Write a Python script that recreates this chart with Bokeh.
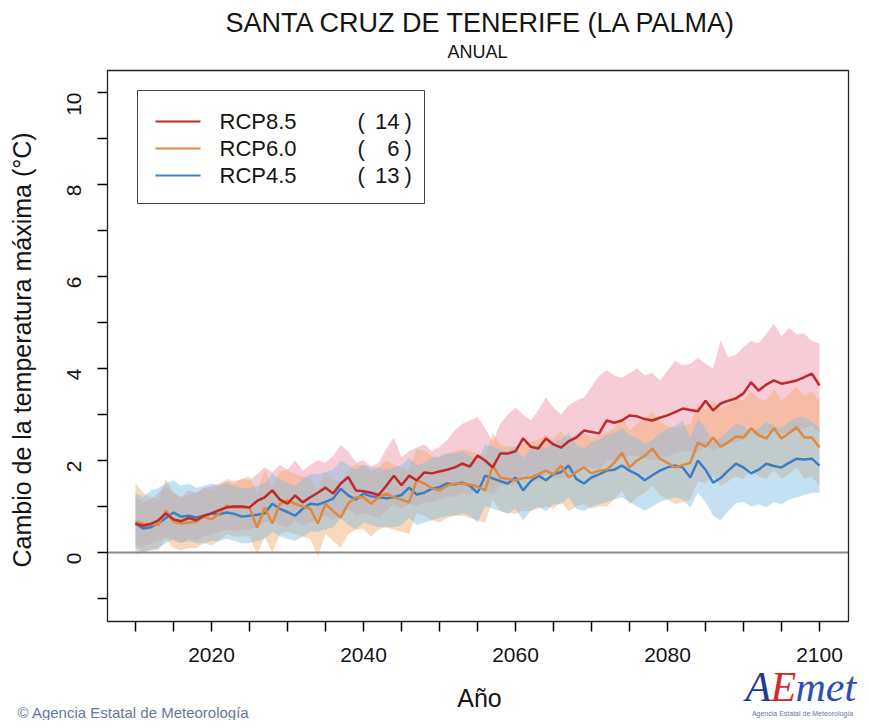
from bokeh.plotting import figure
from bokeh.models import Range1d, FixedTicker, Label
from bokeh.embed import file_html
from bokeh.resources import INLINE
from math import pi

years = list(range(2010, 2101))

rcp85_mean = [0.63, 0.58, 0.62, 0.70, 0.85, 0.72, 0.68, 0.75, 0.70, 0.80,
              0.85, 0.92, 0.98, 1.00, 1.00, 0.98, 1.12, 1.20, 1.35, 1.15,
              1.06, 1.24, 1.09, 1.20, 1.30, 1.41, 1.28, 1.50, 1.64, 1.35,
              1.33, 1.30, 1.25, 1.45, 1.67, 1.46, 1.67, 1.57, 1.74, 1.72,
              1.76, 1.80, 1.85, 1.93, 1.87, 2.11, 2.00, 1.85, 2.15, 2.15,
              2.20, 2.48, 2.30, 2.26, 2.48, 2.35, 2.28, 2.42, 2.50, 2.65,
              2.62, 2.59, 2.87, 2.82, 2.87, 2.98, 2.96, 2.90, 2.87, 2.93,
              2.98, 3.05, 3.13, 3.10, 3.07, 3.30, 3.09, 3.24, 3.30, 3.35,
              3.46, 3.70, 3.52, 3.65, 3.74, 3.67, 3.70, 3.74, 3.81, 3.89,
              3.63]
rcp85_low = [0.15, 0.10, 0.20, 0.25, 0.35, 0.25, 0.20, 0.30, 0.25, 0.35,
             0.40, 0.45, 0.50, 0.45, 0.50, 0.50, 0.55, 0.65, 0.70, 0.60,
             0.55, 0.70, 0.60, 0.65, 0.75, 0.80, 0.70, 0.85, 0.95, 0.80,
             0.85, 0.80, 0.75, 0.90, 1.05, 0.95, 1.05, 1.00, 1.10, 1.10,
             1.15, 1.20, 1.20, 1.30, 1.25, 1.40, 1.35, 1.25, 1.45, 1.45,
             1.50, 1.70, 1.60, 1.55, 1.70, 1.65, 1.60, 1.70, 1.75, 1.85,
             1.85, 1.80, 2.00, 2.00, 2.05, 2.10, 2.10, 2.05, 2.00, 2.05,
             2.10, 2.15, 2.20, 2.20, 2.15, 2.35, 2.20, 2.30, 2.35, 2.40,
             2.45, 2.60, 2.50, 2.60, 2.65, 2.60, 2.60, 2.65, 2.70, 2.75,
             2.60]
rcp85_high = [1.20, 1.10, 1.15, 1.30, 1.45, 1.30, 1.20, 1.35, 1.30, 1.40,
              1.45, 1.50, 1.55, 1.50, 1.60, 1.57, 1.70, 1.85, 1.75, 1.90,
              1.80, 2.00, 1.78, 1.90, 2.00, 1.95, 2.10, 2.33, 2.20, 1.95,
              2.00, 1.87, 1.95, 2.25, 2.50, 2.07, 2.20, 2.28, 2.35, 2.20,
              2.30, 2.45, 2.65, 2.80, 2.87, 2.94, 2.70, 2.40, 2.80, 3.00,
              3.15, 3.00, 2.87, 3.10, 3.37, 3.15, 3.00, 3.20, 3.30, 3.37,
              3.60, 3.85, 3.96, 3.85, 3.80, 3.90, 4.00, 3.85, 3.90, 3.74,
              3.95, 4.17, 4.07, 4.10, 4.24, 4.10, 4.00, 4.61, 4.24, 4.30,
              4.46, 4.60, 4.55, 4.75, 4.98, 4.70, 4.88, 4.75, 4.76, 4.60,
              4.54]

rcp60_mean = [0.67, 0.63, 0.62, 0.60, 0.91, 0.67, 0.63, 0.65, 0.67, 0.78,
              0.72, 0.85, 1.02, 0.98, 0.98, 0.98, 0.54, 0.98, 0.63, 1.06,
              1.13, 1.06, 1.00, 0.95, 0.63, 1.06, 0.90, 0.76, 1.07, 1.20,
              1.20, 1.06, 1.20, 1.28, 1.20, 1.15, 1.09, 1.57, 1.50, 1.40,
              1.35, 1.45, 1.50, 1.50, 1.48, 1.43, 1.35, 1.89, 1.63, 1.60,
              1.57, 1.62, 1.63, 1.70, 1.78, 1.70, 1.89, 1.63, 1.75, 1.85,
              1.72, 1.78, 1.80, 1.95, 2.17, 1.85, 2.00, 2.10, 2.26, 2.04,
              1.95, 1.85, 1.90, 1.95, 2.39, 2.30, 2.50, 2.30, 2.40, 2.52,
              2.50, 2.70, 2.55, 2.48, 2.70, 2.48, 2.60, 2.72, 2.50, 2.50,
              2.28]
rcp60_low = [-0.05, 0.00, 0.05, 0.05, 0.30, 0.10, 0.05, 0.10, 0.10, 0.20,
             0.15, 0.25, 0.40, 0.35, 0.35, 0.35, -0.05, 0.35, 0.00, 0.40,
             0.45, 0.40, 0.35, 0.30, -0.10, 0.40, 0.25, 0.10, 0.40, 0.50,
             0.50, 0.35, 0.50, 0.55, 0.50, 0.45, 0.40, 0.85, 0.80, 0.70,
             0.65, 0.75, 0.80, 0.80, 0.75, 0.70, 0.65, 1.15, 0.90, 0.85,
             0.85, 0.90, 0.90, 0.95, 1.00, 0.95, 1.10, 0.90, 1.00, 1.05,
             0.95, 1.00, 1.00, 1.15, 1.35, 1.05, 1.20, 1.30, 1.45, 1.25,
             1.15, 1.05, 1.10, 1.15, 1.55, 1.50, 1.65, 1.45, 1.55, 1.65,
             1.60, 1.80, 1.65, 1.60, 1.80, 1.60, 1.70, 1.85, 1.60, 1.65,
             1.45]
rcp60_high = [1.50, 1.30, 1.20, 1.15, 1.60, 1.30, 1.20, 1.25, 1.30, 1.40,
              1.35, 1.45, 1.60, 1.55, 1.60, 1.65, 1.30, 1.80, 1.40, 1.75,
              1.80, 1.70, 1.65, 1.60, 1.35, 1.75, 1.60, 1.50, 1.80, 1.90,
              1.90, 1.75, 1.85, 2.00, 1.90, 1.85, 1.80, 2.25, 2.20, 2.10,
              2.05, 2.15, 2.20, 2.25, 2.20, 2.15, 2.10, 2.60, 2.35, 2.30,
              2.30, 2.35, 2.40, 2.45, 2.55, 2.45, 2.65, 2.40, 2.50, 2.60,
              2.50, 2.55, 2.60, 2.70, 2.95, 2.65, 2.80, 2.90, 3.05, 2.85,
              2.75, 2.70, 2.75, 2.80, 3.20, 3.10, 3.30, 3.15, 3.20, 3.35,
              3.30, 3.50, 3.35, 3.30, 3.55, 3.30, 3.45, 3.60, 3.40, 3.50,
              3.30]

rcp45_mean = [0.63, 0.52, 0.55, 0.63, 0.75, 0.87, 0.78, 0.80, 0.76, 0.80,
              0.85, 0.83, 0.87, 0.84, 0.78, 0.80, 0.82, 0.85, 1.06, 0.95,
              0.88, 0.80, 0.95, 1.06, 1.04, 1.10, 1.17, 1.39, 1.24, 1.15,
              1.28, 1.22, 1.20, 1.18, 1.20, 1.25, 1.41, 1.26, 1.30, 1.39,
              1.42, 1.50, 1.48, 1.52, 1.45, 1.30, 1.67, 1.61, 1.55, 1.50,
              1.63, 1.35, 1.55, 1.67, 1.57, 1.70, 1.75, 1.89, 1.60, 1.50,
              1.63, 1.70, 1.78, 1.80, 1.89, 1.78, 1.70, 1.57, 1.68, 1.78,
              1.85, 1.89, 1.85, 1.63, 2.00, 1.80, 1.52, 1.62, 1.78, 1.93,
              1.85, 1.72, 1.80, 1.93, 1.88, 1.85, 1.95, 2.04, 2.02, 2.04,
              1.89]
rcp45_low = [0.10, 0.00, 0.05, 0.10, 0.20, 0.30, 0.20, 0.25, 0.20, 0.20,
             0.25, 0.25, 0.30, 0.25, 0.20, 0.20, 0.25, 0.30, 0.45, 0.35,
             0.30, 0.25, 0.35, 0.45, 0.45, 0.50, 0.55, 0.75, 0.60, 0.50,
             0.65, 0.60, 0.55, 0.55, 0.55, 0.60, 0.75, 0.60, 0.65, 0.70,
             0.75, 0.80, 0.80, 0.85, 0.80, 0.65, 1.00, 0.95, 0.90, 0.85,
             0.95, 0.70, 0.90, 1.00, 0.90, 1.05, 1.05, 1.20, 0.95, 0.90,
             1.00, 1.05, 1.10, 1.15, 1.20, 1.10, 1.00, 0.91, 1.00, 1.10,
             1.15, 1.20, 1.15, 0.98, 1.30, 1.10, 0.80, 0.70, 0.90, 1.07,
             1.10, 1.00, 1.05, 0.98, 1.10, 1.05, 1.15, 1.20, 1.25, 1.30,
             1.30]
rcp45_high = [1.30, 1.20, 1.35, 1.40, 1.50, 1.57, 1.45, 1.50, 1.40, 1.45,
              1.50, 1.45, 1.50, 1.45, 1.40, 1.40, 1.45, 1.50, 1.70, 1.60,
              1.50, 1.45, 1.60, 1.70, 1.70, 1.75, 1.80, 2.00, 1.90, 1.80,
              1.90, 1.85, 1.85, 1.80, 1.85, 1.90, 2.05, 1.90, 1.95, 2.05,
              2.10, 2.15, 2.15, 2.20, 2.10, 2.00, 2.35, 2.30, 2.25, 2.20,
              2.30, 2.05, 2.25, 2.35, 2.25, 2.40, 2.45, 2.60, 2.35, 2.25,
              2.40, 2.45, 2.55, 2.60, 2.70, 2.55, 2.50, 2.35, 2.45, 2.60,
              2.70, 2.75, 2.87, 2.50, 2.90, 2.70, 2.40, 2.50, 2.65, 2.80,
              2.75, 2.60, 2.70, 2.85, 2.75, 2.70, 2.85, 2.94, 2.94, 2.85,
              2.70]

scenarios = ["RCP8.5", "RCP6.0", "RCP4.5"]
model_counts = [14, 6, 13]
x_ticks = list(range(2010, 2101, 5))
x_labels = [2020, 2040, 2060, 2080, 2100]
y_ticks = list(range(-1, 11))
y_labels = [0, 2, 4, 6, 8, 10]

title = "SANTA CRUZ DE TENERIFE (LA PALMA)"
subtitle = "ANUAL"
x_title = "Año"
y_title = "Cambio  de la temperatura máxima (°C)"
credit = "© Agencia Estatal de Meteorología"
logo_parts = ["A", "E", "met"]
logo_sub = "Agencia Estatal de Meteorología"

FONT = "Liberation Sans"
TXT = "#151515"
line_colors = ["#BE2A2C", "#E0893F", "#3A7FC4"]
band_colors = ["#EE8FA6", "#F3A968", "#7EBCE0"]

# ---- layout: pixel geometry of the page (canvas coordinates) ----
W, H = 861, 720
FL, FR, FT, FB = 107, 848, 70, 621        # plot box
PX_PER_YEAR, X_REF_PX = 7.6, 135          # 2010 sits at x=135
PX_PER_UNIT, Y_ZERO_PX = 46.0, 552        # 0 sits at y=552


def px_x(X):
    return 2010 + (X - X_REF_PX) / PX_PER_YEAR


def px_y(Y):
    return (Y_ZERO_PX - Y) / PX_PER_UNIT


p = figure(width=W, height=H,
           x_range=Range1d(px_x(0), px_x(W)), y_range=Range1d(px_y(H), px_y(0)),
           output_backend="svg", toolbar_location=None,
           min_border=0, min_border_left=0, min_border_right=0,
           min_border_top=0, min_border_bottom=0)
p.background_fill_color = "white"
p.border_fill_color = "white"
p.outline_line_color = None
p.xgrid.visible = False
p.ygrid.visible = False

# bands
bands = [(rcp85_low, rcp85_high), (rcp60_low, rcp60_high), (rcp45_low, rcp45_high)]
for (lo, hi), c in zip(bands, band_colors):
    p.varea(x=years, y1=lo, y2=hi, fill_color=c, fill_alpha=0.45)

# zero reference line across the plot box
p.segment(x0=[px_x(FL)], x1=[px_x(FR)], y0=[0], y1=[0], line_color="#8A8A8A", line_width=2)

# ensemble means
means = [rcp85_mean, rcp60_mean, rcp45_mean]
for m, c in list(zip(means, line_colors))[::-1]:
    p.line(years, m, line_color=c, line_width=2.5)

# plot box
p.quad(left=[px_x(FL)], right=[px_x(FR)], top=[px_y(FT)], bottom=[px_y(FB)],
       fill_color=None, line_color="#222222", line_width=1.3)

# axes, pinned to the box edges
p.xaxis.fixed_location = px_y(FB)
p.yaxis.fixed_location = px_x(FL)
p.xaxis.ticker = FixedTicker(ticks=x_ticks)
p.xaxis.major_label_overrides = {t: (str(t) if t in x_labels else "") for t in x_ticks}
p.yaxis.ticker = FixedTicker(ticks=y_ticks)
p.yaxis.major_label_overrides = {t: (str(t) if t in y_labels else "") for t in y_ticks}
p.yaxis.major_label_orientation = pi / 2
for ax in (p.xaxis[0], p.yaxis[0]):
    ax.axis_line_color = None
    ax.major_tick_line_color = "black"
    ax.major_tick_line_width = 1.5
    ax.major_tick_out = 10
    ax.major_tick_in = 0
    ax.minor_tick_out = 0
    ax.minor_tick_in = 0
    ax.major_label_text_font = FONT
    ax.major_label_text_font_size = "21px"
    ax.major_label_text_color = TXT
p.xaxis.major_label_standoff = 16
p.yaxis.major_label_standoff = 24

# axis titles
p.add_layout(Label(x=px_x(479), y=px_y(697), text=x_title, text_font=FONT,
                   text_font_size="25px", text_baseline="middle", text_align="center",
                   text_color=TXT))
p.add_layout(Label(x=px_x(21), y=px_y(346), text=y_title, text_font=FONT, angle=pi / 2,
                   text_font_size="25px", text_baseline="middle", text_align="center",
                   text_color=TXT))

# legend (drawn by hand, R style)
p.quad(left=[px_x(137)], right=[px_x(424)], top=[px_y(90)], bottom=[px_y(203)],
       fill_color="white", line_color="#444444", line_width=1)
rows = [121, 148, 175]
for name, n, c, ry in zip(scenarios, model_counts, line_colors, rows):
    p.segment(x0=[px_x(155)], x1=[px_x(200)], y0=[px_y(ry)], y1=[px_y(ry)],
              line_color=c, line_width=2)
    for txt, X, al in ((name, 219, "left"), ("(", 357, "left"),
                       (str(n), 399, "right"), (")", 404, "left")):
        p.add_layout(Label(x=px_x(X), y=px_y(ry), text=txt, text_font=FONT,
                           text_font_size="22px", text_baseline="middle", text_align=al,
                           text_color=TXT))

# titles
p.add_layout(Label(x=px_x(481), y=px_y(22), text=title, text_font=FONT,
                   text_font_size="27px", text_baseline="middle", text_align="center",
                   text_color=TXT))
p.add_layout(Label(x=px_x(477), y=px_y(51), text=subtitle, text_font=FONT,
                   text_font_size="18px", text_baseline="middle", text_align="center",
                   text_color=TXT))

# credits
p.add_layout(Label(x=px_x(17), y=px_y(712), text=credit, text_font=FONT,
                   text_font_size="15px", text_baseline="middle", text_align="left",
                   text_color="#667898"))
logo_colors = ["#1F3C8C", "#D42A2A", "#2A50B0"]
logo_x = [745, 770, 795]
for t, c, X in zip(logo_parts, logo_colors, logo_x):
    p.add_layout(Label(x=px_x(X), y=px_y(686), text=t, text_font="Liberation Serif",
                       text_font_style="italic", text_font_size="42px",
                       text_baseline="middle", text_align="left", text_color=c))
p.add_layout(Label(x=px_x(802), y=px_y(713), text=logo_sub, text_font=FONT,
                   text_font_size="7px", text_baseline="middle", text_align="center",
                   text_color="#667898"))

open("out.html", "w").write(file_html(p, INLINE))
